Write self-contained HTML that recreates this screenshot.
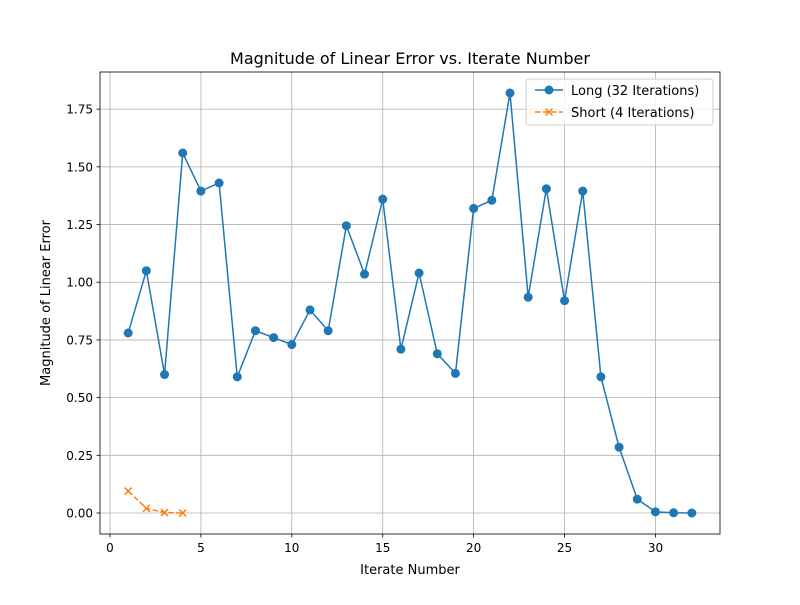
<!DOCTYPE html>
<html><head><meta charset="utf-8"><style>
body{margin:0;background:#fff;font-family:"Liberation Sans","DejaVu Sans",sans-serif}
svg text{font-family:"DejaVu Sans","Liberation Sans",sans-serif}
</style></head><body>
<svg id="chart" width="800" height="600" xmlns="http://www.w3.org/2000/svg">
<rect width="800" height="600" fill="#fff"/>
<g id="grid"></g>
<g id="series"></g>
<rect x="100" y="72" width="620" height="462" fill="none" stroke="#000" stroke-width="0.8"/>
<g id="ticks"></g>
<text x="410" y="64" text-anchor="middle" font-size="16">Magnitude of Linear Error vs. Iterate Number</text>
<text x="410" y="574" text-anchor="middle" font-size="13">Iterate Number</text>
<text x="50" y="303" text-anchor="middle" font-size="13" transform="rotate(-90 50 303)">Magnitude of Linear Error</text>
<g>
<rect x="526" y="79" width="187" height="46" rx="3" fill="#fff" fill-opacity="0.8" stroke="#ccc"/>
<g>
<line x1="535" y1="90" x2="563" y2="90" stroke="#1f77b4" stroke-width="1.5"/>
<circle cx="549" cy="90" r="4.5" fill="#1f77b4"/>
<text x="571" y="95" font-size="13">Long (32 Iterations)</text></g>
<g>
<line x1="535" y1="112" x2="563" y2="112" stroke="#ff7f0e" stroke-width="1.5" stroke-dasharray="5.5,2.4"/>
<path d="M545.5 108.5l7 7M552.5 108.5l-7 7" stroke="#ff7f0e" stroke-width="1.5"/>
<text x="571" y="117" font-size="13">Short (4 Iterations)</text></g>
</g>
</svg>
<script>
const longX=[1,2,3,4,5,6,7,8,9,10,11,12,13,14,15,16,17,18,19,20,21,22,23,24,25,26,27,28,29,30,31,32];
const longY=[0.78,1.05,0.60,1.56,1.395,1.43,0.59,0.79,0.76,0.73,0.88,0.79,1.245,1.035,1.36,0.71,1.04,0.69,0.605,1.32,1.355,1.82,0.935,1.405,0.92,1.395,0.59,0.285,0.06,0.005,0.001,0];
const shortX=[1,2,3,4];
const shortY=[0.095,0.02,0.002,0.0];
const xTicks=[0,5,10,15,20,25,30];
const yTicks=[0,0.25,0.5,0.75,1.0,1.25,1.5,1.75];
const yTickLabels=["0.00","0.25","0.50","0.75","1.00","1.25","1.50","1.75"];
const X0=100,X1=720,Y0=72,Y1=534;
const allX=longX.concat(shortX),allY=longY.concat(shortY);
let xmin=Math.min(...allX),xmax=Math.max(...allX),ymin=Math.min(...allY),ymax=Math.max(...allY);
const dx=(xmax-xmin)*0.05,dy=(ymax-ymin)*0.05;xmin-=dx;xmax+=dx;ymin-=dy;ymax+=dy;
const sx=v=>X0+(v-xmin)/(xmax-xmin)*(X1-X0);
const sy=v=>Y1-(v-ymin)/(ymax-ymin)*(Y1-Y0);
const NS="http://www.w3.org/2000/svg";
function mk(tag,attrs,parent){const e=document.createElementNS(NS,tag);for(const k in attrs)e.setAttribute(k,attrs[k]);parent.appendChild(e);return e;}
const grid=document.getElementById('grid'),ticks=document.getElementById('ticks'),series=document.getElementById('series');
xTicks.forEach(t=>{const x=sx(t);
mk('line',{x1:x,x2:x,y1:Y0,y2:Y1,stroke:'#b0b0b0','stroke-width':0.8},grid);
mk('line',{x1:x,x2:x,y1:Y1,y2:Y1+3.5,stroke:'#000','stroke-width':0.8},ticks);
const tx=mk('text',{x:x,y:Y1+18,'text-anchor':'middle','font-size':12},ticks);tx.textContent=t;

});
yTicks.forEach((t,i)=>{const y=sy(t);
mk('line',{x1:X0,x2:X1,y1:y,y2:y,stroke:'#b0b0b0','stroke-width':0.8},grid);
mk('line',{x1:X0-3.5,x2:X0,y1:y,y2:y,stroke:'#000','stroke-width':0.8},ticks);
const tx=mk('text',{x:X0-7,y:y+4.5,'text-anchor':'end','font-size':12},ticks);tx.textContent=yTickLabels[i];

});
const lp=mk('polyline',{points:longX.map((x,i)=>sx(x)+','+sy(longY[i])).join(' '),fill:'none',stroke:'#1f77b4','stroke-width':1.5},series);


longX.forEach((x,i)=>{const c=mk('circle',{cx:sx(x),cy:sy(longY[i]),r:4.5,fill:'#1f77b4'},series);

});
const sp=mk('polyline',{points:shortX.map((x,i)=>sx(x)+','+sy(shortY[i])).join(' '),fill:'none',stroke:'#ff7f0e','stroke-width':1.5,'stroke-dasharray':'5.5,2.4'},series);


shortX.forEach((x,i)=>{const cx=sx(x),cy=sy(shortY[i]);
const m=mk('path',{d:`M${cx-3.5} ${cy-3.5}l7 7M${cx+3.5} ${cy-3.5}l-7 7`,stroke:'#ff7f0e','stroke-width':1.5},series);

});
</script>
</body></html>
